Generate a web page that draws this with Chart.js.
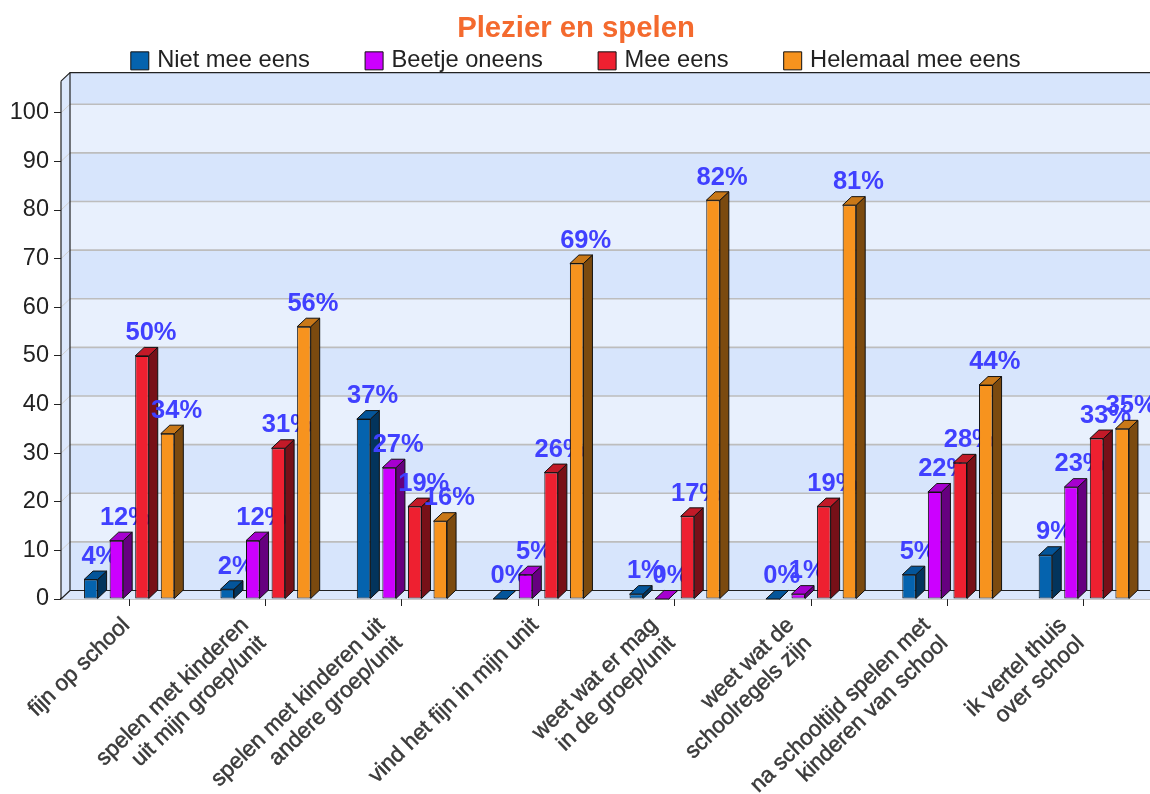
<!DOCTYPE html>
<html><head><meta charset="utf-8">
<style>html,body{margin:0;padding:0;background:#fff;overflow:hidden}#wrap{width:1150px;height:794px;overflow:hidden}canvas{display:block}</style>
<script src="https://cdn.jsdelivr.net/npm/chart.js@4"></script>
</head><body><div id="wrap"><canvas id="c" width="1172" height="794"></canvas></div>
<script>
const categories = [
  ["fijn op school"],
  ["spelen met kinderen","uit mijn groep/unit"],
  ["spelen met kinderen uit","andere groep/unit"],
  ["vind het fijn in mijn unit"],
  ["weet wat er mag","in de groep/unit"],
  ["weet wat de","schoolregels zijn"],
  ["na schooltijd spelen met","kinderen van school"],
  ["ik vertel thuis","over school"]
];
const seriesNames = ["Niet mee eens","Beetje oneens","Mee eens","Helemaal mee eens"];
const nietMeeEens = [4,2,37,0,1,0,5,9];
const beetjeOneens = [12,12,27,5,0,1,22,23];
const meeEens = [50,31,19,26,17,19,28,33];
const helemaalMeeEens = [34,56,16,69,82,81,44,35];
const frontColors = ["#0563AE","#CC00FF","#EE2030","#F7931E"];
const topColors = ["#04559A","#A600CF","#C21A28","#C97818"];
const sideColors = ["#03345C","#66007F","#771018","#7B4A0F"];
const DX = 9, DY = -8.5;

const wall3d = {
  id:'wall3d',
  afterLayout(chart){
    const lg = chart.legend;
    lg.top = 49 - lg.options.labels.padding; lg.bottom = 90;
    lg.left += 1.5; lg.right += 1.5;
  },
  beforeDatasetsDraw(chart){
    const {ctx, chartArea:a, scales:{y}} = chart;
    const L=a.left, R=a.right+DX+5, B=a.bottom, T=a.top;
    ctx.save();
    ctx.fillStyle='#DCE8FC';
    ctx.beginPath();ctx.moveTo(L,B);ctx.lineTo(L,T);ctx.lineTo(L+DX,T+DY);ctx.lineTo(L+DX,B+DY);ctx.closePath();ctx.fill();
    ctx.fillStyle='#DCE8FC';
    ctx.fillRect(L,B+DY,R-L,-DY);
    const ticks=[0,10,20,30,40,50,60,70,80,90,100,null];
    for(let i=0;i<ticks.length-1;i++){
      const y0=y.getPixelForValue(ticks[i])+DY;
      const y1=ticks[i+1]===null?T+DY:y.getPixelForValue(ticks[i+1])+DY;
      ctx.fillStyle=i%2===0?'#D7E5FC':'#E8F0FD';
      ctx.fillRect(L+DX,y1,R-L-DX,y0-y1);
    }
    for(let v=10;v<=100;v+=10){
      const p=y.getPixelForValue(v);
      ctx.strokeStyle='#BDBDBD';ctx.lineWidth=1.6;
      ctx.beginPath();ctx.moveTo(L+DX,p+DY);ctx.lineTo(R,p+DY);ctx.stroke();
      ctx.strokeStyle='#CFCFCF';ctx.lineWidth=1;
      ctx.beginPath();ctx.moveTo(L,p);ctx.lineTo(L+DX,p+DY);ctx.stroke();
    }
    ctx.strokeStyle='#222';ctx.lineWidth=1.2;
    ctx.beginPath();
    ctx.moveTo(R,T+DY);ctx.lineTo(L+DX,T+DY);ctx.lineTo(L+DX,B+DY);ctx.lineTo(R,B+DY);
    ctx.moveTo(L,T);ctx.lineTo(L+DX,T+DY);
    ctx.moveTo(L,B);ctx.lineTo(L+DX,B+DY);
    ctx.moveTo(L,T);ctx.lineTo(L,B);
    ctx.stroke();
    ctx.restore();
  },
  beforeDatasetDraw(){ return false; },
  afterDatasetsDraw(chart){
    const {ctx}=chart;
    chart.data.datasets.forEach((ds,i)=>{
      const meta=chart.getDatasetMeta(i), data=ds.data;
      meta.controller.draw();
      ctx.save();
      ctx.strokeStyle='#111';ctx.lineWidth=1;ctx.lineJoin='round';
      meta.data.forEach((b,k)=>{
        const l=b.x-b.width/2,r=b.x+b.width/2,t=b.y,bt=b.base;
        ctx.fillStyle=sideColors[i];
        ctx.beginPath();ctx.moveTo(r,t);ctx.lineTo(r+DX,t+DY);ctx.lineTo(r+DX,bt+DY);ctx.lineTo(r,bt);ctx.closePath();ctx.fill();ctx.stroke();
        ctx.fillStyle=topColors[i];
        ctx.beginPath();ctx.moveTo(l,t);ctx.lineTo(l+DX,t+DY);ctx.lineTo(r+DX,t+DY);ctx.lineTo(r,t);ctx.closePath();ctx.fill();ctx.stroke();
        ctx.fillStyle='#4040FF';
        ctx.font='bold 25.5px "Liberation Sans"';
        ctx.textAlign='center';ctx.textBaseline='middle';
        ctx.fillText(data[k]+'%',b.x+9,t-22.8);
      });
      ctx.restore();
    });
  }
};

const patchLabels = {
  id:'patchLabels',
  beforeLayout(chart){
    const x=chart.scales.x;
    if(!x||x.__p)return;
    x.__p=true;
    const orig=x._computeLabelItems;
    x._computeLabelItems=function(area){
      const items=orig.call(this,area);
      items.forEach(it=>{
        const n=Array.isArray(it.label)?it.label.length:1;
        it.textOffset-=(n-1)*25.2;
        it.options.translation=[it.options.translation[0]-3,it.options.translation[1]+(n-1)*18];
      });
      return items;
    };
  }
};

const seriesValues=[nietMeeEens,beetjeOneens,meeEens,helemaalMeeEens];
new Chart(document.getElementById('c'),{
  type:'bar',
  data:{labels:categories,datasets:seriesNames.map((n,i)=>({
    label:n,data:seriesValues[i],backgroundColor:frontColors[i],borderColor:'#111',borderWidth:1,borderSkipped:false,
    barPercentage:0.53,categoryPercentage:0.75
  }))},
  plugins:[wall3d,patchLabels],
  options:{
    responsive:false,animation:false,events:[],
    layout:{padding:{left:0,right:20,top:0,bottom:0}},
    plugins:{
      tooltip:{enabled:false},
      title:{display:true,text:"Plezier en spelen",color:'#F46A2E',font:{family:'"Liberation Sans"',size:29.3,weight:'bold',lineHeight:1.2},padding:{top:11,bottom:0}},
      legend:{display:true,position:'top',maxHeight:35,labels:{
        font:{family:'"Liberation Sans"',size:23.7},color:'#222',usePointStyle:true,pointStyle:'rect',boxWidth:11,boxHeight:18,padding:58.7
      }}
    },
    scales:{
      x:{type:'category',offset:true,
        grid:{display:true,offset:false,drawOnChartArea:false,drawTicks:true,tickLength:7,color:'#222'},
        border:{display:true,color:'#222',width:1.2},
        ticks:{autoSkip:false,minRotation:44,maxRotation:44,padding:7,color:'#3A3A3A',textStrokeColor:'#3A3A3A',textStrokeWidth:0.5,font:{family:'"Liberation Sans"',size:22.4,lineHeight:1.125}},
        afterFit(s){s.height=195;}
      },
      y:{min:0,max:106.5,
        grid:{display:true,drawOnChartArea:false,drawTicks:true,tickLength:7,color:'#222'},
        border:{display:false},
        ticks:{stepSize:10,includeBounds:false,padding:5,color:'#222',font:{family:'"Liberation Sans"',size:23.5}},
        afterFit(s){s.width=61;}
      }
    }
  }
});
</script></body></html>
